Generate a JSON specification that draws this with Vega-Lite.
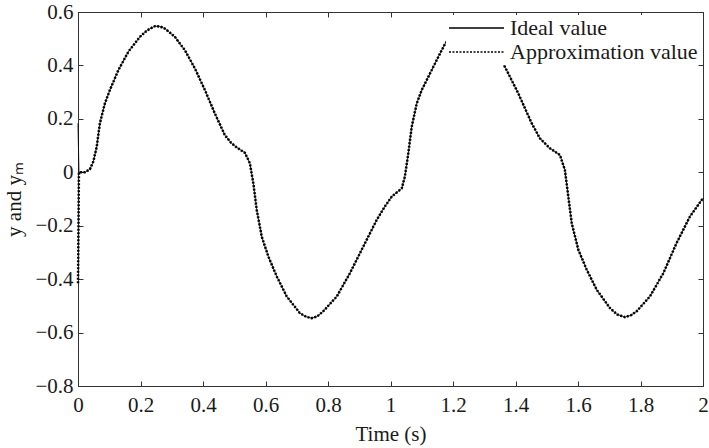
{
  "$schema": "https://vega.github.io/schema/vega-lite/v6.json",
  "width": 625,
  "height": 374,
  "autosize": "none",
  "padding": {"left": 78, "top": 12, "right": 6, "bottom": 62},
  "background": "white",
  "config": {
    "view": {"stroke": "#333", "strokeWidth": 1},
    "font": "Liberation Serif",
    "axis": {
      "grid": false,
      "ticks": true,
      "zindex": 1,
      "domainColor": "#333",
      "tickColor": "#333",
      "tickWidth": 1,
      "tickSize": -5,
      "labelFont": "Liberation Serif",
      "labelFontSize": 21,
      "labelColor": "#1a1a1a",
      "labelFlush": false,
      "labelOverlap": false,
      "titleFont": "Liberation Serif",
      "titleFontSize": 21,
      "titleFontWeight": "normal",
      "titleColor": "#1a1a1a"
    },
    "legend": {
      "orient": "top-right",
      "offset": 3,
      "padding": 2,
      "fillColor": "white",
      "symbolType": "stroke",
      "symbolSize": 3025,
      "clipHeight": 22,
      "rowPadding": 2,
      "symbolStrokeWidth": 1.5,
      "symbolStrokeColor": "#000",
      "labelFont": "Liberation Serif",
      "labelFontSize": 22,
      "labelColor": "#1a1a1a",
      "labelOffset": 5,
      "labelLimit": 400
    }
  },
  "data": {
    "values": [
      {"t": 0, "y": 0.183, "ym": -0.415},
      {"t": 0.003, "y": 0.0, "ym": 0.0},
      {"t": 0.022, "y": 0.0, "ym": 0.0},
      {"t": 0.038, "y": 0.011, "ym": 0.011},
      {"t": 0.049, "y": 0.04, "ym": 0.04},
      {"t": 0.06, "y": 0.096, "ym": 0.096},
      {"t": 0.07, "y": 0.183, "ym": 0.183},
      {"t": 0.086, "y": 0.258, "ym": 0.258},
      {"t": 0.102, "y": 0.308, "ym": 0.308},
      {"t": 0.129, "y": 0.382, "ym": 0.382},
      {"t": 0.161, "y": 0.451, "ym": 0.451},
      {"t": 0.198, "y": 0.507, "ym": 0.507},
      {"t": 0.222, "y": 0.532, "ym": 0.532},
      {"t": 0.246, "y": 0.547, "ym": 0.547},
      {"t": 0.262, "y": 0.546, "ym": 0.546},
      {"t": 0.278, "y": 0.538, "ym": 0.538},
      {"t": 0.31, "y": 0.507, "ym": 0.507},
      {"t": 0.342, "y": 0.457, "ym": 0.457},
      {"t": 0.374, "y": 0.389, "ym": 0.389},
      {"t": 0.406, "y": 0.308, "ym": 0.308},
      {"t": 0.438, "y": 0.22, "ym": 0.22},
      {"t": 0.47, "y": 0.139, "ym": 0.139},
      {"t": 0.49, "y": 0.11, "ym": 0.11},
      {"t": 0.508, "y": 0.093, "ym": 0.093},
      {"t": 0.534, "y": 0.073, "ym": 0.073},
      {"t": 0.55, "y": 0.034, "ym": 0.034},
      {"t": 0.561, "y": -0.041, "ym": -0.041},
      {"t": 0.572, "y": -0.141, "ym": -0.141},
      {"t": 0.588, "y": -0.241, "ym": -0.241},
      {"t": 0.609, "y": -0.315, "ym": -0.315},
      {"t": 0.636, "y": -0.39, "ym": -0.39},
      {"t": 0.668, "y": -0.465, "ym": -0.465},
      {"t": 0.71, "y": -0.527, "ym": -0.527},
      {"t": 0.73, "y": -0.541, "ym": -0.541},
      {"t": 0.748, "y": -0.546, "ym": -0.546},
      {"t": 0.765, "y": -0.54, "ym": -0.54},
      {"t": 0.785, "y": -0.52, "ym": -0.52},
      {"t": 0.828, "y": -0.465, "ym": -0.465},
      {"t": 0.87, "y": -0.378, "ym": -0.378},
      {"t": 0.913, "y": -0.278, "ym": -0.278},
      {"t": 0.956, "y": -0.178, "ym": -0.178},
      {"t": 0.982, "y": -0.128, "ym": -0.128},
      {"t": 1.004, "y": -0.091, "ym": -0.091},
      {"t": 1.036, "y": -0.06, "ym": -0.06},
      {"t": 1.046, "y": -0.016, "ym": -0.016},
      {"t": 1.057, "y": 0.071, "ym": 0.071},
      {"t": 1.068, "y": 0.171, "ym": 0.171},
      {"t": 1.084, "y": 0.258, "ym": 0.258},
      {"t": 1.1, "y": 0.308, "ym": 0.308},
      {"t": 1.121, "y": 0.357, "ym": 0.357},
      {"t": 1.153, "y": 0.432, "ym": 0.432},
      {"t": 1.175, "y": 0.482, "ym": 0.482},
      {"t": 1.2, "y": 0.515, "ym": 0.515},
      {"t": 1.225, "y": 0.537, "ym": 0.537},
      {"t": 1.25, "y": 0.546, "ym": 0.546},
      {"t": 1.275, "y": 0.54, "ym": 0.54},
      {"t": 1.3, "y": 0.51, "ym": 0.51},
      {"t": 1.33, "y": 0.46, "ym": 0.46},
      {"t": 1.366, "y": 0.395, "ym": 0.395},
      {"t": 1.409, "y": 0.295, "ym": 0.295},
      {"t": 1.452, "y": 0.183, "ym": 0.183},
      {"t": 1.478, "y": 0.127, "ym": 0.127},
      {"t": 1.51, "y": 0.09, "ym": 0.09},
      {"t": 1.542, "y": 0.065, "ym": 0.065},
      {"t": 1.558, "y": 0.009, "ym": 0.009},
      {"t": 1.569, "y": -0.091, "ym": -0.091},
      {"t": 1.58, "y": -0.191, "ym": -0.191},
      {"t": 1.601, "y": -0.29, "ym": -0.29},
      {"t": 1.628, "y": -0.365, "ym": -0.365},
      {"t": 1.66, "y": -0.44, "ym": -0.44},
      {"t": 1.702, "y": -0.508, "ym": -0.508},
      {"t": 1.725, "y": -0.532, "ym": -0.532},
      {"t": 1.75, "y": -0.542, "ym": -0.542},
      {"t": 1.77, "y": -0.535, "ym": -0.535},
      {"t": 1.788, "y": -0.52, "ym": -0.52},
      {"t": 1.83, "y": -0.465, "ym": -0.465},
      {"t": 1.873, "y": -0.378, "ym": -0.378},
      {"t": 1.915, "y": -0.266, "ym": -0.266},
      {"t": 1.958, "y": -0.166, "ym": -0.166},
      {"t": 2.0, "y": -0.097, "ym": -0.097}
    ]
  },
  "layer": [
    {
      "mark": {"type": "line", "color": "#000", "strokeWidth": 1},
      "encoding": {
        "x": {
          "field": "t",
          "type": "quantitative",
          "scale": {"domain": [0, 2], "nice": false, "zero": false},
          "axis": {
            "orient": "bottom",
            "values": [0, 0.2, 0.4, 0.6, 0.8, 1, 1.2, 1.4, 1.6, 1.8, 2],
            "format": "~g",
            "labelPadding": 13,
            "title": "Time (s)",
            "titlePadding": 8
          }
        },
        "y": {
          "field": "y",
          "type": "quantitative",
          "scale": {"domain": [-0.8, 0.6], "nice": false, "zero": false},
          "axis": {
            "orient": "left",
            "values": [-0.8, -0.6, -0.4, -0.2, 0, 0.2, 0.4, 0.6],
            "format": "~g",
            "labelPadding": 10,
            "title": "y and yₘ",
            "titlePadding": 10
          }
        },
        "strokeDash": {
          "datum": "Ideal value",
          "scale": {
            "domain": ["Ideal value", "Approximation value"],
            "range": [[1, 0], [2, 1.5]]
          },
          "legend": {"title": null}
        }
      }
    },
    {
      "mark": {"type": "line", "color": "#000", "strokeWidth": 2.5},
      "encoding": {
        "x": {
          "field": "t",
          "type": "quantitative",
          "scale": {"domain": [0, 2], "nice": false, "zero": false},
          "axis": {
            "orient": "top",
            "values": [0, 0.2, 0.4, 0.6, 0.8, 1, 1.2, 1.4, 1.6, 1.8, 2],
            "labels": false,
            "title": null
          }
        },
        "y": {
          "field": "ym",
          "type": "quantitative",
          "scale": {"domain": [-0.8, 0.6], "nice": false, "zero": false},
          "axis": {
            "orient": "right",
            "values": [-0.8, -0.6, -0.4, -0.2, 0, 0.2, 0.4, 0.6],
            "labels": false,
            "title": null
          }
        },
        "strokeDash": {"datum": "Approximation value"}
      }
    }
  ],
  "resolve": {"axis": {"x": "independent", "y": "independent"}}
}
